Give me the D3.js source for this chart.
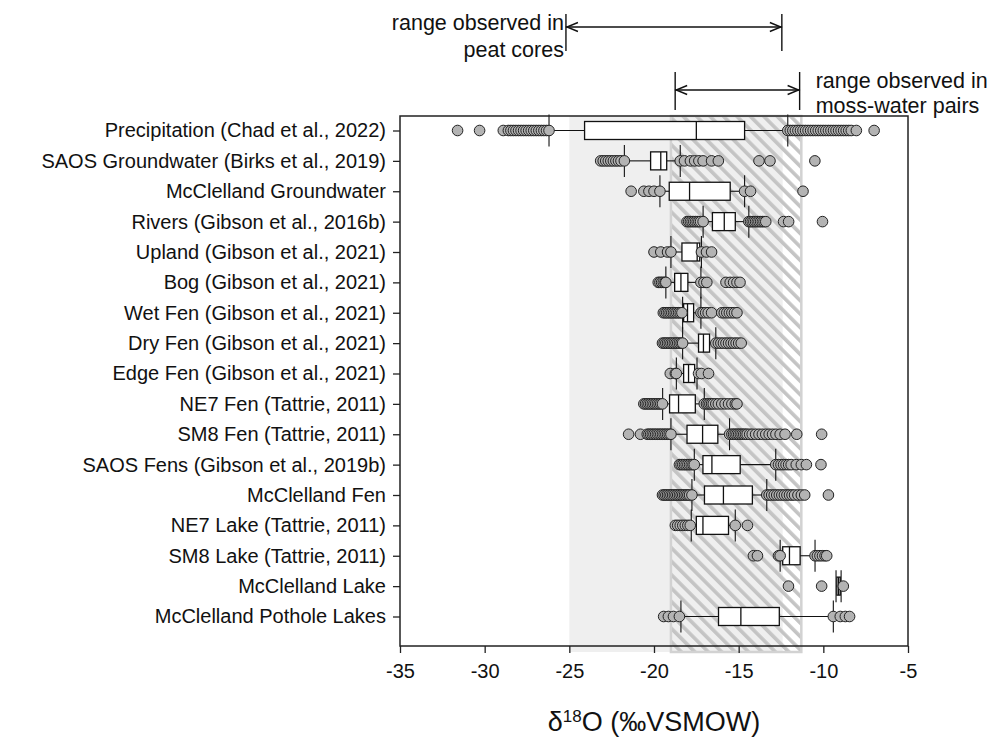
<!DOCTYPE html>
<html>
<head>
<meta charset="utf-8">
<script src="https://cdn.jsdelivr.net/npm/d3@7"></script>
<style>
  body { margin: 0; background: #fff; }
  svg { font-family: "Liberation Sans", Arial, sans-serif; }
</style>
</head>
<body>
<svg id="chart" width="989" height="739"></svg>
<script>
// Box plot summaries (δ18O, ‰ VSMOW)
const categories = [
  "Precipitation (Chad et al., 2022)",
  "SAOS Groundwater (Birks et al., 2019)",
  "McClelland Groundwater",
  "Rivers (Gibson et al., 2016b)",
  "Upland (Gibson et al., 2021)",
  "Bog (Gibson et al., 2021)",
  "Wet Fen (Gibson et al., 2021)",
  "Dry Fen (Gibson et al., 2021)",
  "Edge Fen (Gibson et al., 2021)",
  "NE7 Fen (Tattrie, 2011)",
  "SM8 Fen (Tattrie, 2011)",
  "SAOS Fens (Gibson et al., 2019b)",
  "McClelland Fen",
  "NE7 Lake (Tattrie, 2011)",
  "SM8 Lake (Tattrie, 2011)",
  "McClelland Lake",
  "McClelland Pothole Lakes"
];
const whiskerLow  = [-26.2, -21.75, -19.65, -17.1, -19.0, -19.3, -18.31, -18.31, -18.68, -19.49, -19.0, -17.62, -17.76, -17.8, -12.55, -9.25, -18.41];
const q1          = [-24.1, -20.2, -19.1, -16.55, -18.35, -18.78, -18.25, -17.37, -18.25, -19.08, -18.05, -17.11, -17.02, -17.5, -12.4, -9.2, -16.19];
const median      = [-17.5, -19.6, -17.9, -15.85, -17.45, -18.41, -18.02, -17.08, -17.96, -18.55, -17.13, -16.58, -15.9, -17.11, -12.0, -9.1, -14.87];
const q3          = [-14.65, -19.25, -15.5, -15.2, -17.3, -18.0, -17.66, -16.72, -17.6, -17.56, -16.23, -14.91, -14.19, -15.6, -11.37, -9.0, -12.6];
const whiskerHigh = [-12.1, -18.45, -14.65, -14.4, -17.2, -17.23, -17.23, -16.35, -17.46, -17.03, -15.54, -12.81, -13.34, -15.2, -10.49, -8.95, -9.41];
const outliers = [
  [-31.6, -30.3, -28.9, -28.6, -28.45, -28.3, -28.15, -28.0, -27.85, -27.7, -27.55, -27.4, -27.25, -27.1, -26.95, -26.8, -26.65, -26.5, -26.35, -26.2,
   -12.1, -11.95, -11.8, -11.65, -11.5, -11.35, -11.2, -11.05, -10.9, -10.75, -10.6, -10.45, -10.3, -10.15, -10.0, -9.85, -9.7, -9.55, -9.4, -9.25,
   -9.1, -8.95, -8.8, -8.65, -8.5, -8.35, -8.05, -7.0],
  [-23.15, -23.0, -22.85, -22.7, -22.55, -22.4, -22.25, -22.1, -21.95, -21.75, -18.45, -18.2, -17.85, -17.6, -17.35, -17.1, -16.6, -16.2, -13.8, -13.15, -10.5],
  [-21.35, -20.6, -20.3, -20.0, -19.65, -14.65, -14.3, -11.2],
  [-18.05, -17.95, -17.85, -17.75, -17.65, -17.55, -17.45, -17.35, -17.25, -17.1, -14.4, -14.3, -14.2, -14.1, -14.0, -13.9, -13.8, -13.7, -13.6, -13.5, -13.4, -12.35, -12.05, -10.05],
  [-20.0, -19.6, -19.2, -19.0, -17.2, -16.9, -16.6],
  [-19.75, -19.65, -19.55, -19.45, -19.35, -19.3, -17.23, -17.05, -16.88, -15.75, -15.5, -15.3, -15.1, -14.92],
  [-19.45, -19.35, -19.25, -19.15, -19.05, -18.95, -18.85, -18.75, -18.65, -18.55, -18.45, -18.35, -17.23, -17.1, -16.95, -16.8, -16.6, -16.0, -15.85, -15.7, -15.55, -15.4, -15.25, -15.1],
  [-19.5, -19.4, -19.3, -19.2, -19.1, -19.0, -18.9, -18.8, -18.7, -18.6, -18.5, -18.4, -18.31, -16.35, -16.2, -16.05, -15.9, -15.75, -15.6, -15.45, -15.3, -15.15, -15.0, -14.85],
  [-19.04, -18.74, -18.68, -17.37, -17.2, -16.78],
  [-20.6, -20.5, -20.4, -20.3, -20.2, -20.1, -20.0, -19.9, -19.8, -19.7, -19.6, -19.5, -17.03, -16.9, -16.8, -16.7, -16.6, -16.5, -16.35, -16.2, -16.0, -15.8, -15.6, -15.4, -15.2, -15.1],
  [-21.5, -20.8, -20.4, -20.3, -20.2, -20.1, -20.0, -19.9, -19.8, -19.7, -19.6, -19.5, -19.4, -19.3, -19.2, -19.1, -19.0,
   -15.54, -15.4, -15.3, -15.2, -15.1, -15.0, -14.9, -14.8, -14.7, -14.6, -14.5, -14.35, -14.2, -14.0, -13.8, -13.6, -13.4, -13.2, -13.0, -12.8, -12.55, -12.26, -11.57, -10.1],
  [-18.5, -18.4, -18.3, -18.2, -18.1, -18.0, -17.9, -17.8, -17.7, -17.62, -12.81, -12.65, -12.5, -12.35, -12.2, -12.05, -11.9, -11.6, -11.3, -11.0, -10.14],
  [-19.5, -19.4, -19.3, -19.2, -19.1, -19.0, -18.9, -18.8, -18.7, -18.6, -18.5, -18.4, -18.3, -18.2, -18.1, -18.0, -17.9, -17.76,
   -13.34, -13.2, -13.05, -12.9, -12.75, -12.6, -12.45, -12.3, -12.15, -12.0, -11.85, -11.7, -11.5, -11.3, -11.1, -9.7],
  [-18.74, -18.6, -18.45, -18.3, -18.15, -18.0, -17.86, -15.2, -14.48],
  [-14.13, -13.89, -12.65, -12.55, -10.49, -10.35, -10.2, -10.05, -9.9, -9.8],
  [-12.06, -10.1, -8.82],
  [-19.43, -19.15, -18.85, -18.5, -9.41, -9.0, -8.7, -8.45]
];
const xTicks = [-35, -30, -25, -20, -15, -10, -5];

// shaded ranges: [from, to]
const peatRange = [-25, -12.4];
const mossRange = [-19, -11.3];
// annotation arrows
const peatArrow = [-25.2, -12.45];
const mossArrow = [-18.75, -11.4];

const plotLeft = 400, plotRight = 908, plotTop = 116, plotBottom = 646;

const svg = d3.select("#chart");

const x = d3.scaleLinear().domain([-35, -5]).range([plotLeft, plotRight]);
const y = d3.scalePoint().domain(categories).range([130.5, 616.5]);

// hatch pattern
const defs = svg.append("defs");
defs.append("pattern")
    .attr("id", "hatch")
    .attr("patternUnits", "userSpaceOnUse")
    .attr("width", 9.5)
    .attr("height", 9.5)
    .attr("patternTransform", "rotate(-45)")
  .append("rect")
    .attr("x", 0).attr("y", 0)
    .attr("width", 3.6).attr("height", 9.5)
    .attr("fill", "#c4c4c4");

// shaded areas
svg.append("rect")
    .attr("x", x(peatRange[0]))
    .attr("y", plotTop)
    .attr("width", x(peatRange[1]) - x(peatRange[0]))
    .attr("height", plotBottom - plotTop + 6)
    .attr("fill", "#efefef");

svg.append("rect")
    .attr("x", x(mossRange[0]))
    .attr("y", plotTop)
    .attr("width", x(mossRange[1]) - x(mossRange[0]))
    .attr("height", plotBottom - plotTop + 6)
    .attr("fill", "url(#hatch)")
    .attr("stroke", "#d2d2d2")
    .attr("stroke-width", 2.5);

// boxes
const boxH = 18, capH = 16;
const rows = svg.append("g").selectAll("g")
    .data(categories)
    .join("g")
    .attr("transform", d => `translate(0,${y(d)})`);

rows.append("line")
    .attr("x1", (d, i) => x(whiskerLow[i]))
    .attr("x2", (d, i) => x(q1[i]))
    .attr("stroke", "#111").attr("stroke-width", 1.1);
rows.append("line")
    .attr("x1", (d, i) => x(q3[i]))
    .attr("x2", (d, i) => x(whiskerHigh[i]))
    .attr("stroke", "#111").attr("stroke-width", 1.1);
rows.append("line")
    .attr("x1", (d, i) => x(whiskerLow[i]))
    .attr("x2", (d, i) => x(whiskerLow[i]))
    .attr("y1", -capH).attr("y2", capH)
    .attr("stroke", "#111").attr("stroke-width", 1.1);
rows.append("line")
    .attr("x1", (d, i) => x(whiskerHigh[i]))
    .attr("x2", (d, i) => x(whiskerHigh[i]))
    .attr("y1", -capH).attr("y2", capH)
    .attr("stroke", "#111").attr("stroke-width", 1.1);
rows.append("rect")
    .attr("x", (d, i) => x(q1[i]))
    .attr("y", -boxH / 2)
    .attr("width", (d, i) => x(q3[i]) - x(q1[i]))
    .attr("height", boxH)
    .attr("fill", "#fff")
    .attr("stroke", "#111").attr("stroke-width", 1.3);
rows.append("line")
    .attr("x1", (d, i) => x(median[i]))
    .attr("x2", (d, i) => x(median[i]))
    .attr("y1", -boxH / 2).attr("y2", boxH / 2)
    .attr("stroke", "#111").attr("stroke-width", 1.3);

rows.selectAll("circle")
    .data((d, i) => outliers[i])
    .join("circle")
    .attr("cx", v => x(v))
    .attr("cy", 0)
    .attr("r", 5.3)
    .attr("fill", "#b3b3b3")
    .attr("stroke", "#222")
    .attr("stroke-width", 1);

// frame
svg.append("rect")
    .attr("x", plotLeft).attr("y", plotTop)
    .attr("width", plotRight - plotLeft).attr("height", plotBottom - plotTop)
    .attr("fill", "none")
    .attr("stroke", "#222")
    .attr("stroke-width", 1.5);

// x axis
const xAxis = svg.append("g")
    .attr("transform", `translate(0,${plotBottom})`)
    .call(d3.axisBottom(x).tickValues(xTicks).tickSize(7).tickSizeOuter(0).tickPadding(11)
        .tickFormat(d => d.toString().replace("−", "-")));
xAxis.select(".domain").remove();
xAxis.selectAll("line").attr("stroke", "#222").attr("stroke-width", 1.3);
xAxis.selectAll("text").attr("font-size", 20).attr("fill", "#111")
    .attr("font-family", "Liberation Sans, Arial, sans-serif");

// y axis
const yAxis = svg.append("g")
    .attr("transform", `translate(${plotLeft},0)`)
    .call(d3.axisLeft(y).tickSize(7).tickPadding(7));
yAxis.select(".domain").remove();
yAxis.selectAll("line").attr("stroke", "#222").attr("stroke-width", 1.3);
yAxis.selectAll("text").attr("font-size", 20).attr("fill", "#111")
    .attr("font-family", "Liberation Sans, Arial, sans-serif");

// axis title
const title = svg.append("text")
    .attr("x", (plotLeft + plotRight) / 2)
    .attr("y", 731)
    .attr("text-anchor", "middle")
    .attr("font-size", 27)
    .attr("fill", "#111");
title.append("tspan").text("δ");
title.append("tspan").text("18").attr("font-size", 17).attr("baseline-shift", "55%");
title.append("tspan").text("O (‰VSMOW)");

// annotations
function rangeArrow(range, yy, t1, t2) {
  const g = svg.append("g").attr("stroke", "#111").attr("stroke-width", 1.4).attr("fill", "none");
  const x1 = x(range[0]), x2 = x(range[1]);
  g.append("line").attr("x1", x1).attr("x2", x2).attr("y1", yy).attr("y2", yy);
  g.append("line").attr("x1", x1).attr("x2", x1).attr("y1", t1).attr("y2", t2);
  g.append("line").attr("x1", x2).attr("x2", x2).attr("y1", t1).attr("y2", t2);
  g.append("path").attr("d", `M${x1 + 12},${yy - 4.5} L${x1 + 1},${yy} L${x1 + 12},${yy + 4.5}`);
  g.append("path").attr("d", `M${x2 - 12},${yy - 4.5} L${x2 - 1},${yy} L${x2 - 12},${yy + 4.5}`);
}
rangeArrow(peatArrow, 27, 14, 51);
rangeArrow(mossArrow, 90, 72, 110);

const ann = svg.append("g").attr("font-size", 21.5).attr("fill", "#111");
ann.append("text").attr("x", x(peatArrow[0]) - 2).attr("y", 30).attr("text-anchor", "end").text("range observed in");
ann.append("text").attr("x", x(peatArrow[0]) - 2).attr("y", 57).attr("text-anchor", "end").text("peat cores");
ann.append("text").attr("x", x(mossArrow[1]) + 16).attr("y", 88).text("range observed in");
ann.append("text").attr("x", x(mossArrow[1]) + 16).attr("y", 113).text("moss-water pairs");
</script>
</body>
</html>
